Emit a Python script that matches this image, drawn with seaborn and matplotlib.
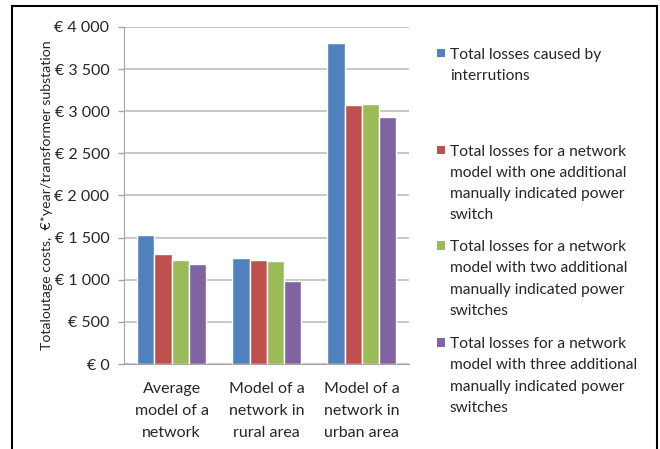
import pandas as pd
import matplotlib.pyplot as plt
from matplotlib.patches import Rectangle
from matplotlib.ticker import FuncFormatter
import seaborn as sns

categories = ['Average\nmodel of a\nnetwork', 'Model of a\nnetwork in\nrural area', 'Model of a\nnetwork in\nurban area']
series_names = [
    'Total losses caused by\ninterrutions',
    'Total losses for a network\nmodel with one additional\nmanually indicated power\nswitch',
    'Total losses for a network\nmodel with two additional\nmanually indicated power\nswitches',
    'Total losses for a network\nmodel with three additional\nmanually indicated power\nswitches',
]
interruptions = [1530, 1260, 3810]
one_switch = [1310, 1240, 3070]
two_switches = [1240, 1220, 3080]
three_switches = [1190, 990, 2930]
colors = ['#4F81BD', '#C0504D', '#9BBB59', '#8064A2']

rows = []
for name, vals in zip(series_names, [interruptions, one_switch, two_switches, three_switches]):
    for cat, v in zip(categories, vals):
        rows.append({'category': cat, 'series': name, 'value': v})
df = pd.DataFrame(rows)

sns.set_style('white')
plt.rcParams['font.family'] = ['Lato', 'DejaVu Sans']

fig = plt.figure(figsize=(6.6, 4.49), dpi=100)
ax = fig.add_axes([0.188, 0.1893, 0.432, 0.7506])

sns.barplot(data=df, x='category', y='value', hue='series', palette=colors,
            width=0.72, gap=0, saturation=1, ax=ax, legend=False)

ax.set_xlim(-0.5, 2.5)
ax.set_ylim(0, 4000)
ax.set_yticks(range(0, 4001, 500))
ax.yaxis.set_major_formatter(FuncFormatter(lambda v, p: '€ ' + f'{int(v):,}'.replace(',', ' ')))
ax.grid(axis='y', color='#bdbdbd', linewidth=1.2)
ax.set_axisbelow(True)
for s in ['top', 'right']:
    ax.spines[s].set_visible(False)
ax.spines['left'].set_color('#a6a6a6')
ax.spines['bottom'].set_color('#a6a6a6')
ax.tick_params(axis='y', which='major', left=True, length=4.5, width=1, color='#a6a6a6',
               labelsize=11.5, pad=6)
ax.tick_params(axis='x', length=0, labelsize=11.5, pad=13)
for lab in ax.get_xticklabels():
    lab.set_linespacing(1.72)
ax.set_xlabel('')
ax.set_ylabel('Totaloutage costs,  €*year/transformer substation', fontsize=10.2, labelpad=1)

# legend drawn by hand so the square sits next to the first line
legend_y = [52.5, 149.5, 245, 342]
for name, col, yc in zip(series_names, colors, legend_y):
    fig.patches.append(Rectangle((436.5 / 660, 1 - (yc + 4.5) / 449), 8.5 / 660, 8.5 / 449,
                                 transform=fig.transFigure, facecolor=col, edgecolor='none'))
    fig.text(450 / 660, 1 - (yc - 5) / 449, name, fontsize=11.2, va='top', ha='left',
             linespacing=1.66)

fig.patches.append(Rectangle((12 / 660, -0.1), (657 - 12) / 660, 1.1 - 6 / 449,
                             transform=fig.transFigure, fill=False, edgecolor='black', linewidth=1.5))

fig.savefig('out.png', dpi=100)
